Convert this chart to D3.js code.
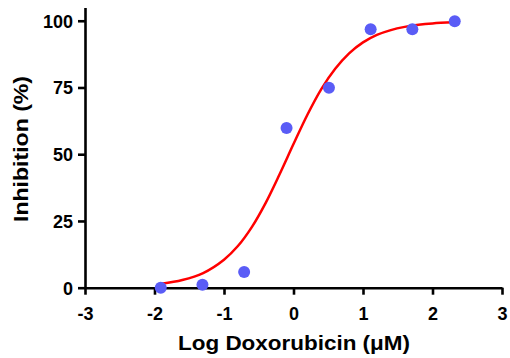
<!DOCTYPE html>
<html>
<head>
<meta charset="utf-8">
<script src="https://cdn.jsdelivr.net/npm/d3@7"></script>
<style>
  html, body { margin: 0; padding: 0; background: #fff; }
  svg { display: block; }
  text { font-family: "Liberation Sans", Arial, sans-serif; font-weight: bold; fill: #000; }
</style>
</head>
<body>
<svg id="chart" width="510" height="358"></svg>
<script>
// Observed data points (log concentration, % inhibition)
const logDose = [-1.91, -1.31, -0.71, -0.10, 0.51, 1.11, 1.71, 2.32];
const inhibition = [0.0, 1.1, 5.9, 59.8, 74.9, 96.8, 96.8, 99.8];

// Fitted curve
const curveX = [-1.90, -1.6, -1.3, -1.0, -0.8, -0.6, -0.4, -0.2, 0.0, 0.2, 0.4, 0.6, 0.8, 1.0, 1.2, 1.4, 1.6, 1.8, 2.0, 2.3];
const curveY = [1.5, 2.9, 5.5, 10.5, 15.6, 22.7, 31.8, 42.5, 53.8, 64.8, 74.4, 82.0, 87.8, 91.9, 94.7, 96.5, 97.7, 98.5, 99.0, 99.4];

// Axis ticks
const xTicks = [-3, -2, -1, 0, 1, 2, 3];
const xTickLabels = ["-3", "-2", "-1", "0", "1", "2", "3"];
const yTicks = [0, 25, 50, 75, 100];
const yTickLabels = ["0", "25", "50", "75", "100"];

const xTitle = "Log Doxorubicin (\u03BCM)";
const yTitle = "Inhibition (%)";

const svg = d3.select("#chart");
const x = d3.scaleLinear().domain([-3, 3]).range([85, 502]);
const y = d3.scaleLinear().domain([0, 105]).range([287.7, 7.4]);

// X axis
const xAxis = svg.append("g")
  .attr("transform", `translate(0,${y(0)})`)
  .call(d3.axisBottom(x).tickValues(xTicks).tickSize(7).tickSizeOuter(0)
    .tickFormat((d, i) => xTickLabels[i]));
xAxis.select(".domain").attr("stroke", "#000").attr("stroke-width", 2.6);
xAxis.selectAll(".tick line").attr("stroke", "#000").attr("stroke-width", 2.6);
xAxis.selectAll(".tick text")
  .attr("font-size", 18).attr("y", 32).attr("dy", 0)
  .style("font-family", "'Liberation Sans', Arial, sans-serif").style("font-weight", "bold");

// Y axis
const yAxis = svg.append("g")
  .attr("transform", `translate(${x(-3)},0)`)
  .call(d3.axisLeft(y).tickValues(yTicks).tickSize(7).tickSizeOuter(0)
    .tickFormat((d, i) => yTickLabels[i]));
yAxis.select(".domain").attr("stroke", "#000").attr("stroke-width", 2.6);
yAxis.selectAll(".tick line").attr("stroke", "#000").attr("stroke-width", 2.6);
yAxis.selectAll(".tick text")
  .attr("font-size", 18).attr("x", -12).attr("dy", "0.36em")
  .style("font-family", "'Liberation Sans', Arial, sans-serif").style("font-weight", "bold");

// Fitted curve
const curveData = curveX.map((d, i) => [d, curveY[i]]);
svg.append("path")
  .datum(curveData)
  .attr("fill", "none")
  .attr("stroke", "#ff0000")
  .attr("stroke-width", 2.5)
  .attr("d", d3.line().x(d => x(d[0])).y(d => y(d[1])).curve(d3.curveCatmullRom.alpha(0.5)));

// Points
svg.append("g").selectAll("circle")
  .data(logDose.map((d, i) => [d, inhibition[i]]))
  .join("circle")
  .attr("cx", d => x(d[0]))
  .attr("cy", d => y(d[1]))
  .attr("r", 6)
  .attr("fill", "#5a5cf6");

// Titles
svg.append("text")
  .attr("x", 294)
  .attr("y", 350)
  .attr("text-anchor", "middle")
  .attr("font-size", 21)
  .attr("textLength", 232)
  .attr("lengthAdjust", "spacingAndGlyphs")
  .text(xTitle);

svg.append("text")
  .attr("transform", `translate(27.5,149) rotate(-90)`)
  .attr("text-anchor", "middle")
  .attr("font-size", 20)
  .attr("textLength", 146)
  .attr("lengthAdjust", "spacingAndGlyphs")
  .text(yTitle);
</script>
</body>
</html>
